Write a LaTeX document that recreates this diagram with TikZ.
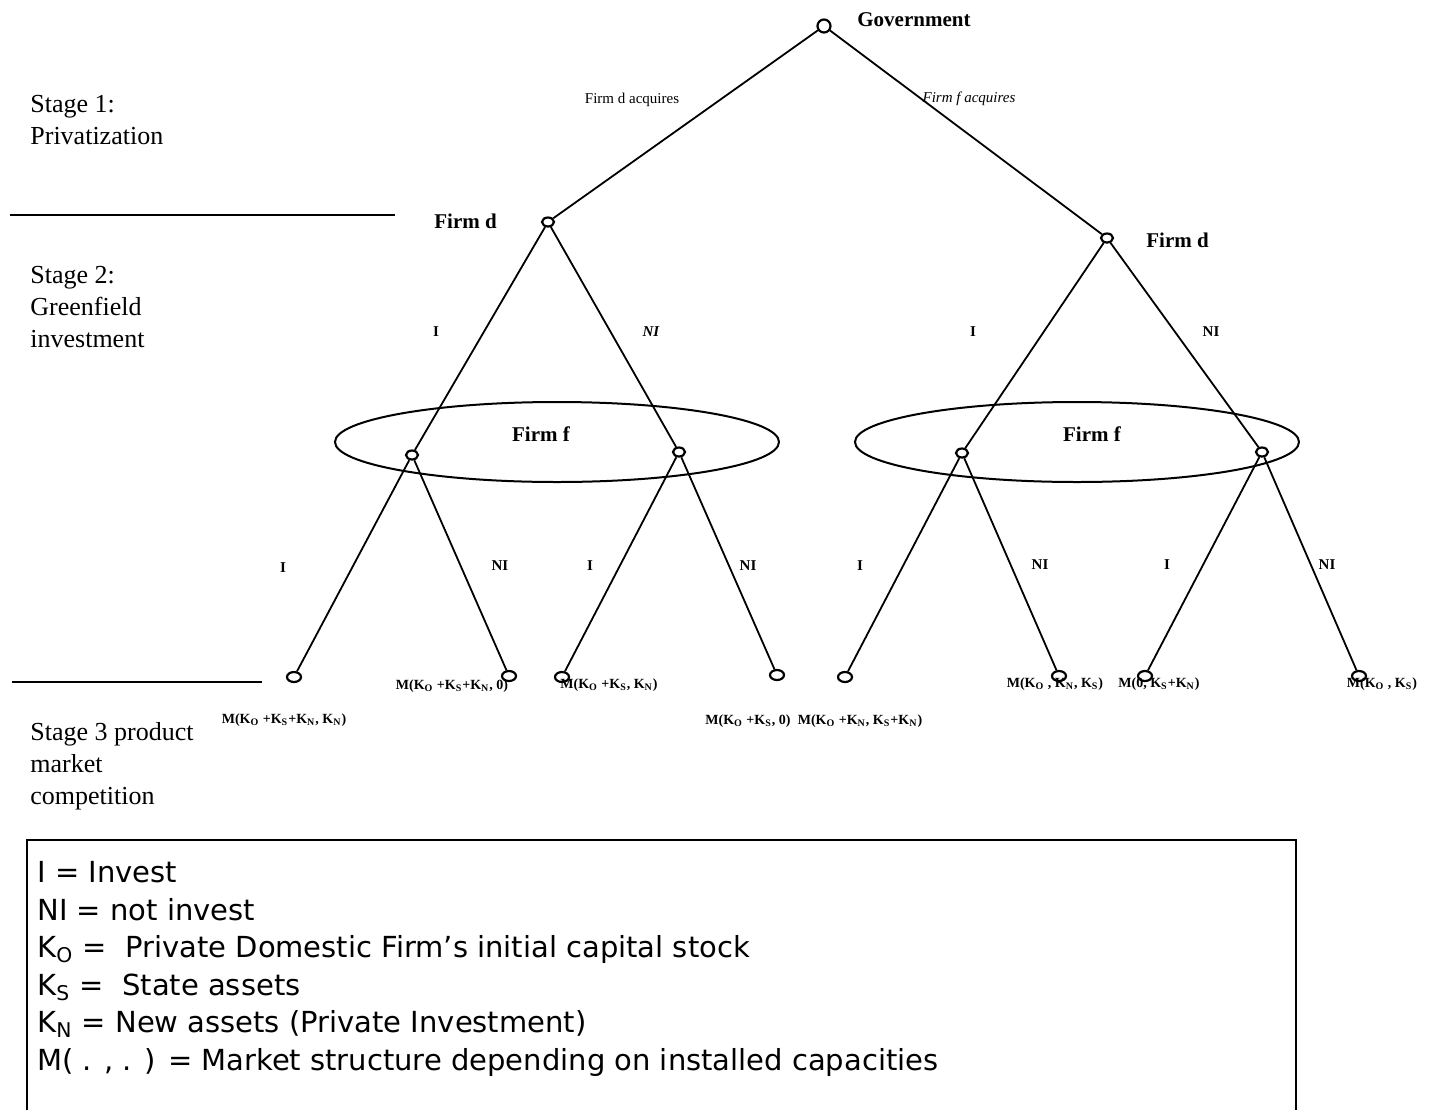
\documentclass[tikz,border=0pt]{standalone}
\usepackage{fontspec}
\setmainfont{Liberation Serif}
\newfontfamily\legendfont{DejaVu Sans}
\usetikzlibrary{shapes.geometric}
\newcommand\kk[1]{K\textsubscript{#1}}
\begin{document}
\begin{tikzpicture}[x=0.5pt,y=-0.5pt,
  decision/.style={draw, line width=1.1pt, ellipse, minimum width=6pt, minimum height=4.5pt, inner sep=0pt, fill=white},
  rootnode/.style={draw, line width=1.1pt, circle, minimum size=6.5pt, inner sep=0pt, fill=white},
  leaf/.style={draw, line width=1.1pt, ellipse, minimum width=7pt, minimum height=5pt, inner sep=0pt, fill=white},
  branch/.style={line width=0.9pt},
  infoset/.style={draw, line width=1pt, ellipse, inner sep=0pt, minimum width=222pt, minimum height=40pt},
  actlabel/.style={font=\bfseries\fontsize{7.5}{9}\selectfont, inner sep=0pt},
  movelabel/.style={font=\fontsize{7.5}{9}\selectfont, inner sep=0pt},
  payoff/.style={font=\bfseries\fontsize{7}{8}\selectfont, inner sep=0pt},
  stagelabel/.style={font=\fontsize{13}{16}\selectfont, align=left, anchor=north west, inner sep=0pt},
  player/.style={font=\bfseries\fontsize{10.5}{12}\selectfont, inner sep=0pt}
]
\useasboundingbox (0,0) rectangle (1432,1110);

% stage labels and separators
\node[stagelabel] (s1) at (30,95) {Stage 1:\\Privatization};
\node[stagelabel] (s2) at (30,266) {Stage 2:\\Greenfield\\investment};
\node[stagelabel] (s3) at (30,722) {Stage 3 product\\market\\competition};
\draw[line width=0.7pt] (10,215) -- (395,215);
\draw[line width=0.7pt] (12,682) -- (262,682);

% information sets of firm f
\node[infoset] (infoL) at (557,442) {};
\node[infoset] (infoR) at (1077,442) {};
\node[player] (ffL) at (541,434) {Firm f};
\node[player] (ffR) at (1092,434) {Firm f};

% decision nodes
\node[rootnode] (gov) at (824,26) {};
\node[decision] (dL) at (548,222) {};
\node[decision] (dR) at (1107,238) {};
\node[decision] (fLL) at (412,455) {};
\node[decision] (fLR) at (679,452) {};
\node[decision] (fRL) at (962,453) {};
\node[decision] (fRR) at (1262,452) {};

% terminal nodes
\node[leaf] (t1) at (294,677) {};
\node[leaf] (t2) at (509,676) {};
\node[leaf] (t3) at (562,677) {};
\node[leaf] (t4) at (777,675) {};
\node[leaf] (t5) at (845,677) {};
\node[leaf] (t6) at (1059,676) {};
\node[leaf] (t7) at (1145,676) {};
\node[leaf] (t8) at (1359,676) {};

% branches
\draw[branch] (gov) -- (dL);
\draw[branch] (gov) -- (dR);
\draw[branch] (dL) -- (fLL);
\draw[branch] (dL) -- (fLR);
\draw[branch] (dR) -- (fRL);
\draw[branch] (dR) -- (fRR);
\draw[branch] (fLL) -- (t1);
\draw[branch] (fLL) -- (t2);
\draw[branch] (fLR) -- (t3);
\draw[branch] (fLR) -- (t4);
\draw[branch] (fRL) -- (t5);
\draw[branch] (fRL) -- (t6);
\draw[branch] (fRR) -- (t7);
\draw[branch] (fRR) -- (t8);

% player labels
\node[player, anchor=west] (lgov) at (857,20) {Government};
\node[player, anchor=west] (ldL) at (434,221) {Firm d};
\node[player, anchor=west] (ldR) at (1146,240) {Firm d};

% move labels
\node[movelabel] (mA) at (632,100) {Firm d acquires};
\node[movelabel, font=\itshape\fontsize{7.5}{9}\selectfont] (mB) at (969,99) {Firm f acquires};
\node[actlabel] (a1) at (436,332) {I};
\node[actlabel, font=\bfseries\itshape\fontsize{7.5}{9}\selectfont] (a2) at (651,332) {NI};
\node[actlabel] (a3) at (973,332) {I};
\node[actlabel] (a4) at (1211,332) {NI};
\node[actlabel] (b1) at (283,568) {I};
\node[actlabel] (b2) at (500,566) {NI};
\node[actlabel] (b3) at (590,566) {I};
\node[actlabel] (b4) at (748,566) {NI};
\node[actlabel] (b5) at (860,566) {I};
\node[actlabel] (b6) at (1040,565) {NI};
\node[actlabel] (b7) at (1167,565) {I};
\node[actlabel] (b8) at (1327,565) {NI};

% market structures at the terminal nodes
\node[payoff] (p1) at (284,720) {M(\kk{O} +\kk{S}+\kk{N}, \kk{N})};
\node[payoff] (p2) at (452,686) {M(\kk{O} +\kk{S}+\kk{N}, 0)};
\node[payoff] (p3) at (609,685) {M(\kk{O} +\kk{S}, \kk{N})};
\node[payoff] (p4) at (748,721) {M(\kk{O} +\kk{S}, 0)};
\node[payoff] (p5) at (860,721) {M(\kk{O} +\kk{N}, \kk{S}+\kk{N})};
\node[payoff] (p6) at (1055,684) {M(\kk{O} , \kk{N}, \kk{S})};
\node[payoff] (p7) at (1159,684) {M(0, \kk{S}+\kk{N})};
\node[payoff] (p8) at (1382,684) {M(\kk{O} , \kk{S})};

% legend
\draw[line width=1pt] (27,840) rectangle (1296,1116);
\node[anchor=north west, align=left, inner sep=0pt,
  font=\legendfont\fontsize{14.5}{18.75}\selectfont] (legend) at (37,861)
  {I = Invest\\
   NI = not invest\\
   \kk{O} =\ \ Private Domestic Firm’s initial capital stock\\
   \kk{S} =\ \ State assets\\
   \kk{N} = New assets (Private Investment)\\
   M( . , . ) = Market structure depending on installed capacities};
\end{tikzpicture}
\end{document}
